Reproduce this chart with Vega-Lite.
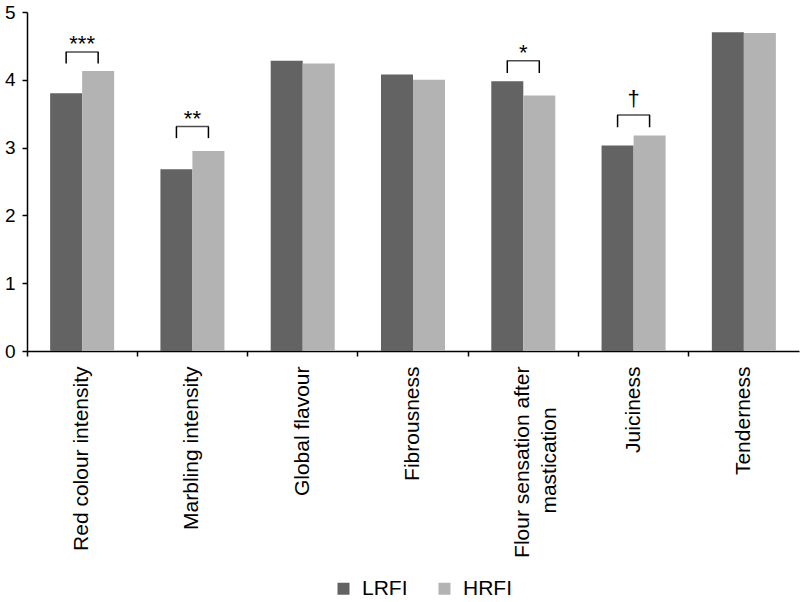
{
  "$schema": "https://vega.github.io/schema/vega-lite/v6.json",
  "width": 772,
  "height": 339,
  "autosize": {"type": "none"},
  "padding": {"left": 27, "top": 12, "right": 13, "bottom": 251},
  "background": "white",
  "config": {
    "view": {"stroke": null},
    "font": "Liberation Sans",
    "axis": {"labelFont": "Liberation Sans", "labelColor": "black", "domainColor": "black", "tickColor": "black", "domainWidth": 1.5, "tickWidth": 1.5}
  },
  "datasets": {
    "bars": [
      {"category": "Red colour intensity", "group": "LRFI", "value": 3.80},
      {"category": "Red colour intensity", "group": "HRFI", "value": 4.13},
      {"category": "Marbling intensity", "group": "LRFI", "value": 2.68},
      {"category": "Marbling intensity", "group": "HRFI", "value": 2.95},
      {"category": "Global flavour", "group": "LRFI", "value": 4.28},
      {"category": "Global flavour", "group": "HRFI", "value": 4.24},
      {"category": "Fibrousness", "group": "LRFI", "value": 4.08},
      {"category": "Fibrousness", "group": "HRFI", "value": 4.00},
      {"category": "Flour sensation after mastication", "group": "LRFI", "value": 3.98},
      {"category": "Flour sensation after mastication", "group": "HRFI", "value": 3.77},
      {"category": "Juiciness", "group": "LRFI", "value": 3.03},
      {"category": "Juiciness", "group": "HRFI", "value": 3.18},
      {"category": "Tenderness", "group": "LRFI", "value": 4.70},
      {"category": "Tenderness", "group": "HRFI", "value": 4.69}
    ],
    "sig": [
      {"category": "Red colour intensity", "label": "***", "top": 4.41, "textY": 4.41},
      {"category": "Marbling intensity", "label": "**", "top": 3.31, "textY": 3.31},
      {"category": "Flour sensation after mastication", "label": "*", "top": 4.28, "textY": 4.28},
      {"category": "Juiciness", "label": "†", "top": 3.48, "textY": 3.60}
    ],
    "legs": [
      {"category": "Red colour intensity", "group": "LRFI", "low": 4.24, "top": 4.41},
      {"category": "Red colour intensity", "group": "HRFI", "low": 4.24, "top": 4.41},
      {"category": "Marbling intensity", "group": "LRFI", "low": 3.14, "top": 3.31},
      {"category": "Marbling intensity", "group": "HRFI", "low": 3.14, "top": 3.31},
      {"category": "Flour sensation after mastication", "group": "LRFI", "low": 4.10, "top": 4.28},
      {"category": "Flour sensation after mastication", "group": "HRFI", "low": 4.10, "top": 4.28},
      {"category": "Juiciness", "group": "LRFI", "low": 3.30, "top": 3.48},
      {"category": "Juiciness", "group": "HRFI", "low": 3.30, "top": 3.48}
    ]
  },
  "encoding": {
    "x": {
      "field": "category",
      "type": "nominal",
      "sort": null,
      "scale": {"domain": ["Red colour intensity", "Marbling intensity", "Global flavour", "Fibrousness", "Flour sensation after mastication", "Juiciness", "Tenderness"], "paddingInner": 0, "paddingOuter": 0},
      "axis": {
        "title": null,
        "labelAngle": -90,
        "labelFontSize": 21,
        "labelPadding": 10,
        "labelLimit": 0,
        "tickSize": 5,
        "bandPosition": 0,
        "labelLineHeight": 27,
        "labelExpr": "datum.value == 'Flour sensation after mastication' ? ['Flour sensation after', 'mastication\u00a0\u00a0\u00a0\u00a0\u00a0\u00a0\u00a0\u200b'] : datum.value"
      }
    }
  },
  "layer": [
    {
      "data": {"name": "bars"},
      "mark": {"type": "bar"},
      "encoding": {
        "xOffset": {"field": "group", "type": "nominal", "sort": ["LRFI", "HRFI"], "scale": {"paddingInner": 0, "paddingOuter": 0.723}},
        "y": {
          "field": "value",
          "type": "quantitative",
          "scale": {"domain": [0, 5], "nice": false},
          "axis": {"title": null, "values": [0, 1, 2, 3, 4, 5], "format": "d", "labelFontSize": 19, "labelPadding": 7, "tickSize": 5, "grid": false}
        },
        "color": {
          "field": "group",
          "type": "nominal",
          "sort": ["LRFI", "HRFI"],
          "scale": {"domain": ["LRFI", "HRFI"], "range": ["#636363", "#b3b3b3"]},
          "legend": {
            "title": null,
            "orient": "none",
            "direction": "horizontal",
            "legendX": 306,
            "legendY": 566,
            "padding": 0,
            "symbolType": "square",
            "symbolSize": 144,
            "symbolStrokeWidth": 0,
            "labelFontSize": 21,
            "labelFont": "Liberation Sans",
            "labelColor": "black",
            "labelOffset": 8,
            "columnPadding": 26
          }
        }
      }
    },
    {
      "data": {"name": "legs"},
      "mark": {"type": "rule", "color": "black", "strokeWidth": 1.5},
      "encoding": {
        "xOffset": {"field": "group", "type": "nominal", "sort": ["LRFI", "HRFI"]},
        "y": {"field": "low", "type": "quantitative"},
        "y2": {"field": "top"}
      }
    },
    {
      "data": {"name": "sig"},
      "mark": {"type": "tick", "color": "black", "thickness": 1.5, "size": 33},
      "encoding": {
        "y": {"field": "top", "type": "quantitative"}
      }
    },
    {
      "data": {"name": "sig"},
      "mark": {"type": "text", "color": "black", "fontSize": 22, "baseline": "alphabetic", "dy": -1},
      "encoding": {
        "y": {"field": "textY", "type": "quantitative"},
        "text": {"field": "label"}
      }
    }
  ]
}
